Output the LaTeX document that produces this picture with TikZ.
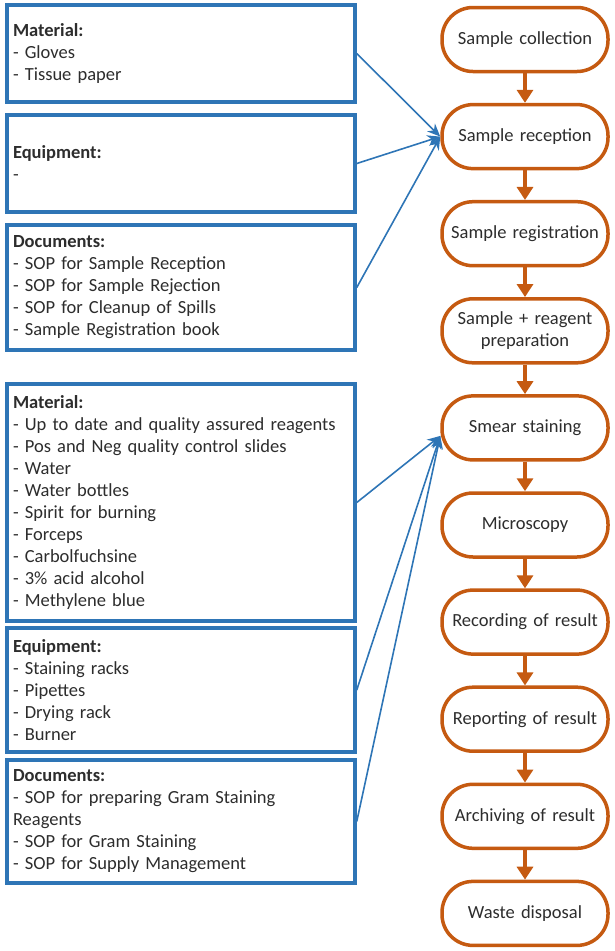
\documentclass[tikz,border=0pt]{standalone}
\usepackage{fontspec}
\setmainfont{Carlito}
\usetikzlibrary{arrows.meta}
\definecolor{bxblue}{RGB}{46,117,182}
\definecolor{ovorange}{RGB}{197,90,17}
\definecolor{txt}{RGB}{45,45,45}
\tikzset{
  lbox/.style={draw=bxblue, line width=3.5pt, fill=white, minimum width=348pt,
    text width=336pt, inner xsep=6pt, inner ysep=2pt, align=left, text=txt,
    font=\fontsize{18.5}{22}\selectfont},
  oval/.style={draw=ovorange, line width=3.5pt, fill=white, rounded corners=31pt,
    minimum width=166pt, minimum height=64pt, text width=160pt, inner sep=2pt,
    align=center, text=txt, font=\fontsize{18.5}{22}\selectfont},
  flowarrow/.style={draw=ovorange, line width=3.5pt,
    -{Triangle[length=13pt,width=16pt]}},
  reqarrow/.style={draw=bxblue, line width=1.6pt,
    -{Stealth[length=13pt,width=11pt]}}
}
\begin{document}
\begin{tikzpicture}[x=1pt,y=-1pt]
\useasboundingbox (0,0) rectangle (615,951);
% left boxes
\node[lbox, minimum height=97pt] (m1) at (181,53.5)
  {\textbf{Material:}\\- Gloves\\- Tissue paper};
\node[lbox, minimum height=97pt] (e1) at (181,163.5)
  {\textbf{Equipment:}\\-};
\node[lbox, minimum height=125pt] (d1) at (181,287.5)
  {\textbf{Documents:}\\- SOP for Sample Reception\\- SOP for Sample Rejection\\- SOP for Cleanup of Spills\\- Sample Registration book};
\node[lbox, minimum height=237pt] (m2) at (181,502.5)
  {\textbf{Material:}\\- Up to date and quality assured reagents\\- Pos and Neg quality control slides\\- Water\\- Water bottles\\- Spirit for burning\\- Forceps\\- Carbolfuchsine\\- 3\% acid alcohol\\- Methylene blue};
\node[lbox, minimum height=124pt] (e2) at (181,690)
  {\textbf{Equipment:}\\- Staining racks\\- Pipettes\\- Drying rack\\- Burner};
\node[lbox, minimum height=123pt] (d2) at (181,821.5)
  {\textbf{Documents:}\\- SOP for preparing Gram Staining\\Reagents\\- SOP for Gram Staining\\- SOP for Supply Management};
% ovals
\node[oval] (o1) at (525,39.5) {Sample collection};
\node[oval] (o2) at (525,136.6) {Sample reception};
\node[oval] (o3) at (525,233.7) {Sample registration};
\node[oval] (o4) at (525,330.8) {Sample + reagent\\preparation};
\node[oval] (o5) at (525,427.9) {Smear staining};
\node[oval] (o6) at (525,525.0) {Microscopy};
\node[oval] (o7) at (525,622.1) {Recording of result};
\node[oval] (o8) at (525,719.2) {Reporting of result};
\node[oval] (o9) at (525,816.3) {Archiving of result};
\node[oval] (o10) at (525,913.4) {Waste disposal};
% flow arrows
\foreach \a/\b in {o1/o2,o2/o3,o3/o4,o4/o5,o5/o6,o6/o7,o7/o8,o8/o9,o9/o10}
  \draw[flowarrow] (\a.south) -- (\b.north);
% requirement arrows
\draw[reqarrow] (m1.east) -- (o2.west);
\draw[reqarrow] (e1.east) -- (o2.west);
\draw[reqarrow] (d1.east) -- (o2.west);
\draw[reqarrow] (m2.east) -- ([yshift=-8pt]o5.west);
\draw[reqarrow] (e2.east) -- ([yshift=-8pt]o5.west);
\draw[reqarrow] (d2.east) -- ([yshift=-8pt]o5.west);
\end{tikzpicture}
\end{document}
